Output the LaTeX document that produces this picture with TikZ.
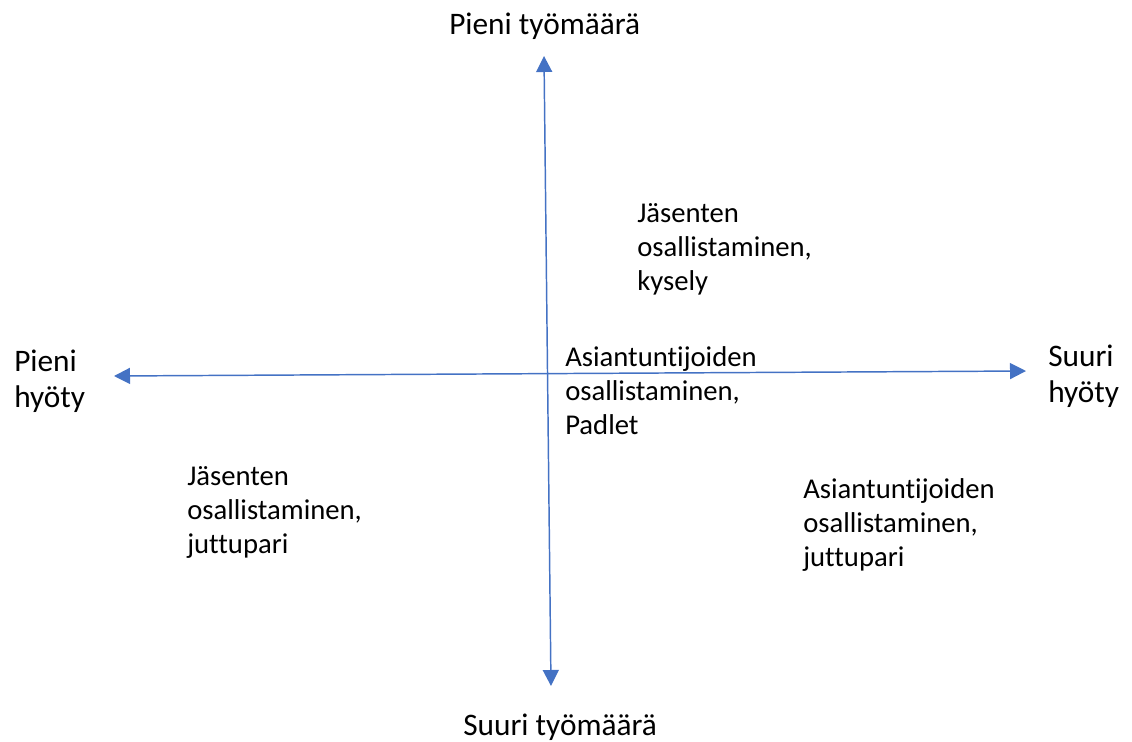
\documentclass[tikz,border=0pt]{standalone}
\usepackage{fontspec}
\setmainfont{Carlito}[Ligatures={NoCommon,NoContextual}]
\usetikzlibrary{arrows.meta}
\definecolor{axisblue}{HTML}{4472C4}
\begin{document}
\begin{tikzpicture}[x=0.75pt,y=-0.75pt,
  axis/.style={draw=axisblue,line width=1.1pt,-{Triangle[length=12pt,width=12pt]}},
  lbl/.style={anchor=base west,inner sep=0pt,align=left,
    font=\fontsize{21.5}{25.5}\selectfont,text=black},
  axislbl/.style={lbl,font=\fontsize{23.5}{27}\selectfont}]
\useasboundingbox (0,0) rectangle (1132,742);
% axis end points
\coordinate (top) at (544,56);
\coordinate (bottom) at (551,686);
\coordinate (left) at (114,376);
\coordinate (right) at (1026,371);
\coordinate (vmid) at (547.5,371);
\coordinate (hmid) at (570,373.5);
% axes
\draw[axis] (vmid) -- (top);
\draw[axis] (vmid) -- (bottom);
\draw[axis] (hmid) -- (left);
\draw[axis] (hmid) -- (right);
% axis labels (anchored at the baseline of the last line)
\node[axislbl] (ltop) at (449,35) {Pieni työmäärä};
\node[axislbl] (lbottom) at (463,735) {Suuri työmäärä};
\node[axislbl] (lleft) at (14,407) {Pieni\\hyöty};
\node[axislbl] (lright) at (1048,402) {Suuri\\hyöty};
% quadrant items
\node[lbl] (qa) at (637,290) {Jäsenten\\osallistaminen,\\kysely};
\node[lbl] (qb) at (565,434) {Asiantuntijoiden\\osallistaminen,\\Padlet};
\node[lbl] (qc) at (187,553) {Jäsenten\\osallistaminen,\\juttupari};
\node[lbl] (qd) at (803,566) {Asiantuntijoiden\\osallistaminen,\\juttupari};
\end{tikzpicture}
\end{document}
